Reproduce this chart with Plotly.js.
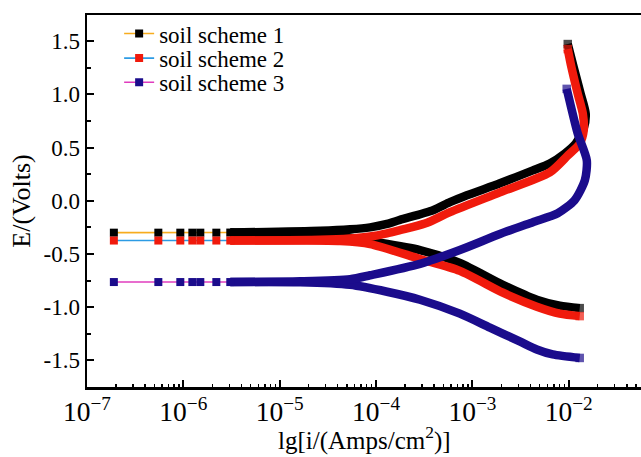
<!DOCTYPE html>
<html>
<head>
<meta charset="utf-8">
<script src="https://cdn.plot.ly/plotly-3.0.1.min.js"></script>
<style>html,body{margin:0;padding:0;background:#fff;}#chart{width:641px;height:457px;}</style>
</head>
<body>
<div id="chart"></div>
<script>
// ---- data (current density in A/cm², potential in V) ----
const seriesNames = ["soil scheme 1", "soil scheme 2", "soil scheme 3"];

// sparse low-current points near the corrosion potential
const lowI = [1.9e-7, 5.5e-7, 9.3e-7, 1.24e-6, 1.5e-6, 2.2e-6, 3.07e-6];
const s1LowE = [-0.300, -0.300, -0.300, -0.300, -0.300, -0.300, -0.299];
const s2LowE = [-0.374, -0.374, -0.374, -0.374, -0.374, -0.374, -0.374];
const s3LowE = [-0.764, -0.764, -0.764, -0.764, -0.764, -0.764, -0.764];

// anodic branches
const s1AnodicI = [3.07e-6, 2.63e-5, 5.38e-5, 8.67e-5, 1.30e-4, 1.77e-4, 3.90e-4, 5.85e-4, 8.77e-4, 1.93e-3, 4.24e-3, 6.35e-3, 9.10e-3, 1.18e-2, 1.43e-2, 1.50e-2, 1.33e-2, 1.13e-2, 9.77e-3];
const s1AnodicE = [-0.299, -0.282, -0.268, -0.250, -0.218, -0.180, -0.089, -0.014, 0.051, 0.164, 0.285, 0.350, 0.444, 0.537, 0.678, 0.818, 1.005, 1.248, 1.472];
const s2AnodicI = [3.07e-6, 2.63e-5, 5.38e-5, 8.67e-5, 1.30e-4, 1.77e-4, 3.22e-4, 5.85e-4, 1.93e-3, 6.35e-3, 9.77e-3, 1.30e-2, 1.43e-2, 1.40e-2, 1.24e-2, 1.07e-2, 9.77e-3];
const s2AnodicE = [-0.374, -0.366, -0.354, -0.336, -0.306, -0.276, -0.215, -0.107, 0.079, 0.266, 0.425, 0.537, 0.659, 0.818, 1.005, 1.248, 1.425];
const s3AnodicI = [3.07e-6, 1.63e-5, 5.38e-5, 8.67e-5, 2.86e-4, 7.41e-4, 1.93e-3, 4.24e-3, 7.69e-3, 1.15e-2, 1.47e-2, 1.54e-2, 1.24e-2, 1.02e-2, 9.53e-3];
const s3AnodicE = [-0.764, -0.757, -0.738, -0.700, -0.593, -0.463, -0.313, -0.201, -0.117, 0.005, 0.192, 0.379, 0.631, 0.939, 1.051];

// cathodic branches
const s1CathodicI = [3.07e-6, 1.63e-5, 4.24e-5, 8.67e-5, 2.86e-4, 7.41e-4, 2.07e-3, 4.66e-3, 8.07e-3, 1.30e-2];
const s1CathodicE = [-0.299, -0.308, -0.332, -0.379, -0.463, -0.584, -0.790, -0.930, -0.986, -1.009];
const s2CathodicI = [3.07e-6, 1.63e-5, 4.24e-5, 8.67e-5, 2.86e-4, 7.41e-4, 2.07e-3, 4.66e-3, 8.07e-3, 1.30e-2];
const s2CathodicE = [-0.374, -0.374, -0.379, -0.407, -0.547, -0.659, -0.864, -0.995, -1.061, -1.084];
const s3CathodicI = [3.07e-6, 1.63e-5, 5.38e-5, 1.30e-4, 2.86e-4, 7.41e-4, 1.52e-3, 3.10e-3, 4.66e-3, 6.82e-3, 1.30e-2];
const s3CathodicE = [-0.764, -0.766, -0.790, -0.855, -0.930, -1.061, -1.192, -1.322, -1.397, -1.444, -1.477];

// axis ticks and titles
const yTickVals = [-1.5, -1.0, -0.5, 0.0, 0.5, 1.0, 1.5];
const yTickText = ["-1.5", "-1.0", "-0.5", "0.0", "0.5", "1.0", "1.5"];
const xTitle = "lg[i/(Amps/cm<sup>2</sup>)]";
const yTitle = "E/(Volts)";

// ---- styles ----
const markerColors = ["#000000", "#F01A0C", "#1B0C8C"];
const lineColors = ["#F7AC1E", "#2C9BE4", "#E03CBE"];
const serif = "Liberation Serif";
const legendIds = ["legend", "legend2", "legend3"];
const legendY = [0.950, 0.884, 0.819];

const series = [
  {low: s1LowE, aI: s1AnodicI, aE: s1AnodicE, cI: s1CathodicI, cE: s1CathodicE},
  {low: s2LowE, aI: s2AnodicI, aE: s2AnodicE, cI: s2CathodicI, cE: s2CathodicE},
  {low: s3LowE, aI: s3AnodicI, aE: s3AnodicE, cI: s3CathodicI, cE: s3CathodicE}
];

function endSizes(n) { const a = new Array(n).fill(0); a[n - 1] = 8.5; return a; }

const traces = [];
series.forEach((s, k) => {
  [[s.cI, s.cE], [s.aI, s.aE]].forEach(br => {
    traces.push({
      x: br[0], y: br[1],
      type: "scatter", mode: "lines+markers", showlegend: false, hoverinfo: "skip",
      line: {color: markerColors[k], width: 8.5, shape: "spline", smoothing: 0.7},
      marker: {symbol: "square", size: endSizes(br[0].length), color: markerColors[k], line: {width: 0}}
    });
  });
  traces.push({
    x: lowI, y: s.low, name: seriesNames[k], legend: legendIds[k],
    type: "scatter", mode: "lines+markers",
    line: {color: lineColors[k], width: 1.6},
    marker: {symbol: "square", size: 8, color: markerColors[k]}
  });
});

function legendCfg(y) {
  return {x: 0.058, y: y, xanchor: "left", yanchor: "middle",
    bgcolor: "rgba(0,0,0,0)", font: {family: serif, size: 23, color: "#000"}};
}

const layout = {
  width: 641, height: 457,
  margin: {l: 87, r: 0, t: 15, b: 70},
  paper_bgcolor: "#fff", plot_bgcolor: "#fff",
  font: {family: serif, color: "#000", size: 20},
  showlegend: true,
  legend: legendCfg(legendY[0]),
  legend2: legendCfg(legendY[1]),
  legend3: legendCfg(legendY[2]),
  xaxis: {
    type: "log", range: [-7, -1.25], dtick: 1,
    exponentformat: "power", showexponent: "all",
    showgrid: false, zeroline: false,
    showline: true, linecolor: "#000", linewidth: 2.5, mirror: true,
    ticks: "inside", ticklen: 7, tickwidth: 2, tickcolor: "#000",
    minor: {ticks: "inside", ticklen: 3.5, tickwidth: 1.5, dtick: "D1", tickcolor: "#000"},
    tickfont: {family: serif, size: 22, color: "#000"}
  },
  yaxis: {
    range: [-1.75, 1.745],
    tickmode: "array", tickvals: yTickVals, ticktext: yTickText,
    showgrid: false, zeroline: false,
    showline: true, linecolor: "#000", linewidth: 2.5, mirror: false,
    ticks: "inside", ticklen: 7, tickwidth: 2, tickcolor: "#000",
    minor: {ticks: "inside", ticklen: 4, tickwidth: 2, dtick: 0.25, tickcolor: "#000"},
    tickfont: {family: serif, size: 23, color: "#000"},
    title: {text: yTitle, font: {family: serif, size: 26, color: "#000"}, standoff: 6}
  },
  annotations: [{
    text: xTitle, xref: "paper", yref: "paper", x: 0.5, y: -0.138,
    xanchor: "center", yanchor: "middle", showarrow: false,
    font: {family: serif, size: 25, color: "#000"}
  }]
};

Plotly.newPlot("chart", traces, layout, {displayModeBar: false, staticPlot: true});
</script>
</body>
</html>
